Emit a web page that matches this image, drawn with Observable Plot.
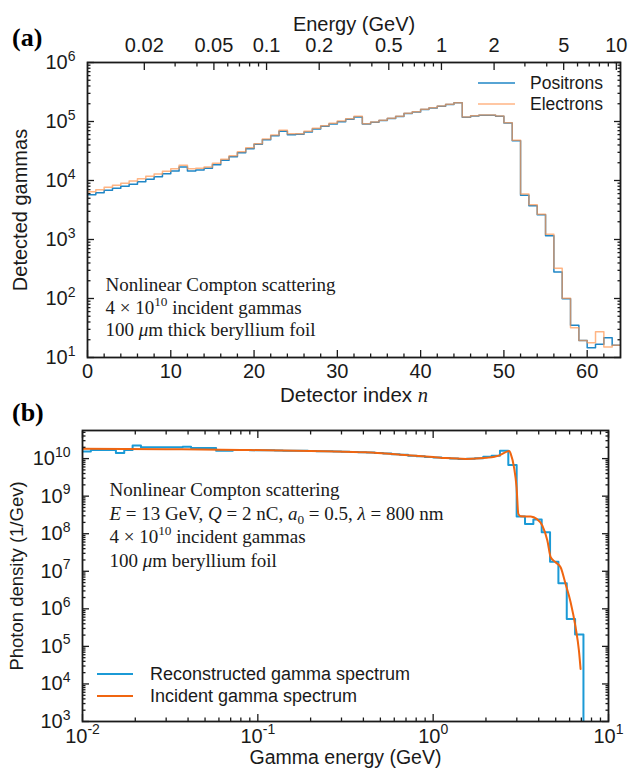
<!DOCTYPE html>
<html><head><meta charset="utf-8">
<script src="https://cdn.jsdelivr.net/npm/d3@7"></script>
<script src="https://cdn.jsdelivr.net/npm/@observablehq/plot@0.6"></script>
<style>
html,body{margin:0;padding:0;background:#fff;}
#wrap{position:relative;width:635px;height:775px;overflow:hidden;}
#wrap svg{position:absolute;left:0;overflow:visible;}
</style></head><body><div id="wrap"></div>
<script>
// ---------- Panel (a) data ----------
const detectorIdx = d3.range(64);
const positrons = [5750,6220,6810,7370,7960,8610,9550,10470,11610,13050,
  14490,16940,14490,15070,16080,18550,21970,25340,29630,34640,
  41020,49230,57540,68100,59800,60630,66380,74620,82850,90720,
  99370,108800,119200,90500,96800,103500,112000,121000,136000,145500,
  159500,170000,181500,194000,207000,118000,124500,128000,128000,123000,
  94500,47000,5600,3750,2620,1160,280,99,35.1,19.5,
  14.7,16.7,21.7,16.1];
const electrons = [6470,7000,7660,8280,8960,9810,10740,11770,12890,14300,
  15880,18080,15880,16080,16940,19540,22850,26360,30820,35990,
  42090,50500,59040,70850,62200,62200,68100,76600,85000,93100,
  101900,111700,122400,91900,98100,104700,113200,122400,137500,146800,
  160800,171600,183100,195400,208600,119200,125500,128900,128900,123900,
  95500,47950,5900,3900,2670,1224,325,101,32.0,19.5,
  17.8,27.4,15.1,16.1];
const idxMajor = [0,10,20,30,40,50,60];
const idxMinor = [2,4,6,8,12,14,16,18,22,24,26,28,32,34,36,38,42,44,46,48,52,54,56,58,62];
const energyLabels = [0.02,0.05,0.1,0.2,0.5,1,2,5,10];
const energyMinor = [0.03,0.04,0.06,0.07,0.08,0.09,0.3,0.4,0.6,0.7,0.8,0.9,3,4,6,7,8,9];
const binsPerDecade = 21, firstEnergy = 0.01, binOffset = 0.5;
const countMajor = [1e1,1e2,1e3,1e4,1e5,1e6];

// ---------- Panel (b) data ----------
const reconValues = [1.54e10,1.70e10,1.70e10,1.70e10,1.42e10,1.70e10,2.22e10,2.0e10,2.0e10,2.0e10,
  2.0e10,2.0e10,2.08e10,1.92e10,1.92e10,1.92e10,1.63e10,1.63e10,1.70e10,1.69e10,
  1.68e10,1.67e10,1.66e10,1.65e10,1.63e10,1.62e10,1.61e10,1.60e10,1.58e10,1.56e10,
  1.54e10,1.52e10,1.50e10,1.48e10,1.45e10,1.42e10,1.37e10,1.31e10,1.26e10,1.20e10,
  1.15e10,1.11e10,1.07e10,1.03e10,1.00e10,0.98e10,0.99e10,1.02e10,1.12e10,1.20e10,
  1.63e10,6.8e9,2.86e8,1.82e8,2.38e8,1.09e8,1.78e7,4.8e6,5.4e5,2.07e5];
const incidentE = [0.01,0.03,0.08,0.24,0.41,0.69,1.0,1.18,1.55,2.02,2.37,2.63,2.72,2.77,2.89,2.99,3.06,3.15,3.60,3.89,4.19,4.48,4.68,4.99,5.33,5.69,6.08,6.49,6.78,6.93];
const incidentV = [1.82e10,1.78e10,1.70e10,1.57e10,1.47e10,1.25e10,1.10e10,1.03e10,0.98e10,1.05e10,1.20e10,1.53e10,1.60e10,1.33e10,5.9e9,1.73e9,3.37e8,2.92e8,2.86e8,2.48e8,1.65e8,6.6e7,2.36e7,1.74e7,1.28e7,4.6e6,1.5e6,3.24e5,7.8e4,2.5e4];
const energyMajorB = [0.01,0.1,1,10];
const densityMajor = [1e3,1e4,1e5,1e6,1e7,1e8,1e9,1e10];

// ---------- helpers ----------
const SANS = "Liberation Sans, Arial, Helvetica, sans-serif";
const SERIF = "Liberation Serif, Times New Roman, serif";
const INK = "#1a1a1a";
function logMinor(lo, hi) {
  const out = [];
  for (let d = Math.floor(Math.log10(lo)); d <= Math.ceil(Math.log10(hi)); d++)
    for (let m = 2; m <= 9; m++) { const v = m * Math.pow(10, d); if (v > lo && v < hi) out.push(v); }
  return out;
}
const sup = d => "10^{" + Math.round(Math.log10(d)) + "}";
function tickSet(xB, xBm, xT, xTm, yM, ym, major, minor) {
  const base = {stroke: INK, strokeWidth: 1.3, fill: "none", label: null};
  return [
    Plot.axisX({...base, anchor: "bottom", ticks: xB, tickSize: -major}),
    Plot.axisX({...base, anchor: "bottom", ticks: xBm, tickSize: -minor}),
    Plot.axisX({...base, anchor: "top", ticks: xT, tickSize: -major}),
    Plot.axisX({...base, anchor: "top", ticks: xTm, tickSize: -minor}),
    Plot.axisY({...base, anchor: "left", ticks: yM, tickSize: -major}),
    Plot.axisY({...base, anchor: "left", ticks: ym, tickSize: -minor}),
    Plot.axisY({...base, anchor: "right", ticks: yM, tickSize: -major}),
    Plot.axisY({...base, anchor: "right", ticks: ym, tickSize: -minor})
  ];
}
const NS = "http://www.w3.org/2000/svg";
function rich(svg) {
  svg.querySelectorAll("text").forEach(el => {
    if (el.querySelector("tspan")) return;
    const s = el.textContent;
    if (!/\^\{|_\{|\*|~\{/.test(s)) return;
    const fs = parseFloat(getComputedStyle(el).fontSize) || 16;
    const parts = s.split(/(\^\{[^}]*\}|_\{[^}]*\}|~\{[^}]*\}|\*[^*]+\*)/).filter(p => p !== "");
    el.textContent = "";
    let shift = 0;
    for (const p of parts) {
      const ts = document.createElementNS(NS, "tspan");
      let target = 0, txt = p, size = null, italic = false, serif = false;
      if (p.startsWith("^{")) { target = -0.42 * fs; txt = p.slice(2, -1); size = 0.7 * fs; }
      else if (p.startsWith("_{")) { target = 0.2 * fs; txt = p.slice(2, -1); size = 0.7 * fs; }
      else if (p.startsWith("~{")) { txt = p.slice(2, -1); italic = true; serif = true; }
      else if (p.startsWith("*")) { txt = p.slice(1, -1); italic = true; }
      const d = target - shift;
      if (d) ts.setAttribute("dy", d.toFixed(2));
      shift = target;
      if (size) ts.setAttribute("font-size", size.toFixed(2));
      if (italic) ts.setAttribute("font-style", "italic");
      if (serif) ts.setAttribute("font-family", SERIF);
      ts.textContent = txt;
      el.appendChild(ts);
    }
  });
}
function addText(svg, x, y, str, attrs) {
  const t = document.createElementNS(NS, "text");
  t.setAttribute("x", x); t.setAttribute("y", y);
  t.setAttribute("text-anchor", "start");
  for (const k in attrs) t.setAttribute(k, attrs[k]);
  t.textContent = str;
  svg.appendChild(t);
  return t;
}
function addLegend(svg, x0, x1, tx, rows, fontSize) {
  for (const r of rows) {
    const l = document.createElementNS(NS, "line");
    l.setAttribute("x1", x0); l.setAttribute("x2", x1);
    l.setAttribute("y1", r.y); l.setAttribute("y2", r.y);
    l.setAttribute("stroke", r.color); l.setAttribute("stroke-width", r.width);
    if (r.opacity) l.setAttribute("stroke-opacity", r.opacity);
    svg.appendChild(l);
    addText(svg, tx, r.y, r.label, {"dy": "0.35em", "font-family": SANS, "font-size": fontSize, "fill": INK});
  }
}

const wrap = document.getElementById("wrap");

// ---------- Panel (a) ----------
const blueA = "#1f86c6", orangeA = "#ff9650";
const ptsP = detectorIdx.map(i => ({i, v: positrons[i]})).concat([{i: 64, v: positrons[63]}]);
const ptsE = detectorIdx.map(i => ({i, v: electrons[i]})).concat([{i: 64, v: electrons[63]}]);
const eIdx = e => binOffset + binsPerDecade * Math.log10(e / firstEnergy);
const topMajor = energyLabels.map(eIdx);
const topMinor = energyMinor.map(eIdx);
const topFmt = new Map(topMajor.map((x, k) => [x, String(energyLabels[k])]));
const svgA = Plot.plot({
  width: 635, height: 414,
  marginTop: 62, marginRight: 15, marginBottom: 57, marginLeft: 87,
  style: {fontFamily: SANS, color: INK, background: "transparent", overflow: "visible"},
  x: {domain: [0, 64]},
  y: {type: "log", domain: [10, 1e6]},
  marks: [
    Plot.lineY(ptsP, {x: "i", y: "v", curve: "step-after", stroke: blueA, strokeWidth: 1.5, clip: true}),
    Plot.lineY(ptsE, {x: "i", y: "v", curve: "step-after", stroke: orangeA, strokeWidth: 1.5, strokeOpacity: 0.7, clip: true}),
    Plot.frame({stroke: INK, strokeWidth: 1.8}),
    ...tickSet(idxMajor, idxMinor, topMajor, topMinor, countMajor, logMinor(10, 1e6), 7, 3.5),
    Plot.axisX({anchor: "bottom", ticks: idxMajor, tickSize: 0, tickPadding: 6, fontSize: 20, label: null, fill: INK}),
    Plot.axisX({anchor: "top", ticks: topMajor, tickSize: 0, tickPadding: 11, fontSize: 20, label: null, fill: INK, tickFormat: x => topFmt.get(x)}),
    Plot.axisY({anchor: "left", ticks: countMajor, tickSize: 0, tickPadding: 12, fontSize: 20, label: null, fill: INK, tickFormat: sup}),
    Plot.text(["Energy (GeV)"], {text: d => d, frameAnchor: "top", dy: -46, fontSize: 20, fill: INK}),
    Plot.text(["Detector index ~{n}"], {text: d => d, frameAnchor: "bottom", dy: 44, fontSize: 20.5, fill: INK}),
    Plot.text(["Detected gammas"], {text: d => d, frameAnchor: "left", textAnchor: "middle", dx: -67, rotate: -90, fontSize: 20, fill: INK}),
    Plot.text(["Nonlinear Compton scattering"], {text: d => d, frameAnchor: "bottom-left", textAnchor: "start", dx: 18, dy: -67, fontFamily: SERIF, fontSize: 19, fill: INK}),
    Plot.text(["4 × 10^{10} incident gammas"], {text: d => d, frameAnchor: "bottom-left", textAnchor: "start", dx: 18, dy: -44, fontFamily: SERIF, fontSize: 19, fill: INK}),
    Plot.text(["100 *μ*m thick beryllium foil"], {text: d => d, frameAnchor: "bottom-left", textAnchor: "start", dx: 18, dy: -22, fontFamily: SERIF, fontSize: 19, fill: INK})
  ]
});
svgA.style.top = "0px";
wrap.appendChild(svgA);
rich(svgA);
addText(svgA, 12, 37, "(a)", {"dy": "0.35em", "font-family": SERIF, "font-weight": "bold", "font-size": 26, "fill": "#000"});
addLegend(svgA, 478, 515, 530, [
  {y: 83, color: blueA, width: 1.5, label: "Positrons"},
  {y: 104, color: orangeA, width: 1.5, opacity: 0.7, label: "Electrons"}
], 17.5);

// ---------- Panel (b) ----------
const blueB = "#1b9ad6", orangeB = "#f06510";
const reconEdge = k => firstEnergy * Math.pow(10, k / binsPerDecade);
const ptsR = reconValues.map((v, k) => ({e: reconEdge(k), v})).concat([{e: reconEdge(reconValues.length), v: 1}]);
const ptsI = incidentE.map((e, k) => ({e, v: incidentV[k]}));
const svgB = Plot.plot({
  width: 635, height: 385,
  marginTop: 40, marginRight: 27, marginBottom: 54, marginLeft: 82,
  style: {fontFamily: SANS, color: INK, background: "transparent", overflow: "visible"},
  x: {type: "log", domain: [0.01, 10]},
  y: {type: "log", domain: [1e3, 5.6e10]},
  marks: [
    Plot.line(ptsR, {x: "e", y: "v", curve: "step-after", stroke: blueB, strokeWidth: 2, clip: true}),
    Plot.line(ptsI, {x: "e", y: "v", curve: "monotone-x", stroke: orangeB, strokeWidth: 2, clip: true}),
    Plot.frame({stroke: INK, strokeWidth: 1.8}),
    ...tickSet(energyMajorB, logMinor(0.01, 10), energyMajorB, logMinor(0.01, 10), densityMajor, logMinor(1e3, 5.6e10), 7, 3.5),
    Plot.axisX({anchor: "bottom", ticks: energyMajorB, tickSize: 0, tickPadding: 7, fontSize: 20, label: null, fill: INK, tickFormat: sup}),
    Plot.axisY({anchor: "left", ticks: densityMajor, tickSize: 0, tickPadding: 12, fontSize: 20, label: null, fill: INK, tickFormat: sup}),
    Plot.text(["Gamma energy (GeV)"], {text: d => d, frameAnchor: "bottom", dy: 42, fontSize: 19.5, fill: INK}),
    Plot.text(["Photon density (1/Gev)"], {text: d => d, frameAnchor: "left", textAnchor: "middle", dx: -65, rotate: -90, fontSize: 18.5, fill: INK}),
    Plot.text(["Nonlinear Compton scattering"], {text: d => d, frameAnchor: "top-left", textAnchor: "start", dx: 27, dy: 52, fontFamily: SERIF, fontSize: 19, fill: INK}),
    Plot.text(["*E* = 13 GeV, *Q* = 2 nC, *a*_{0} = 0.5, *λ* = 800 nm"], {text: d => d, frameAnchor: "top-left", textAnchor: "start", dx: 27, dy: 76, fontFamily: SERIF, fontSize: 19, fill: INK}),
    Plot.text(["4 × 10^{10} incident gammas"], {text: d => d, frameAnchor: "top-left", textAnchor: "start", dx: 27, dy: 99, fontFamily: SERIF, fontSize: 19, fill: INK}),
    Plot.text(["100 *μ*m beryllium foil"], {text: d => d, frameAnchor: "top-left", textAnchor: "start", dx: 27, dy: 123, fontFamily: SERIF, fontSize: 19, fill: INK})
  ]
});
svgB.style.top = "390px";
wrap.appendChild(svgB);
rich(svgB);
addText(svgB, 12, 22, "(b)", {"dy": "0.35em", "font-family": SERIF, "font-weight": "bold", "font-size": 26, "fill": "#000"});
addLegend(svgB, 97, 133, 150, [
  {y: 284, color: blueB, width: 2, label: "Reconstructed gamma spectrum"},
  {y: 306, color: orangeB, width: 2, label: "Incident gamma spectrum"}
], 18);
</script></body></html>
